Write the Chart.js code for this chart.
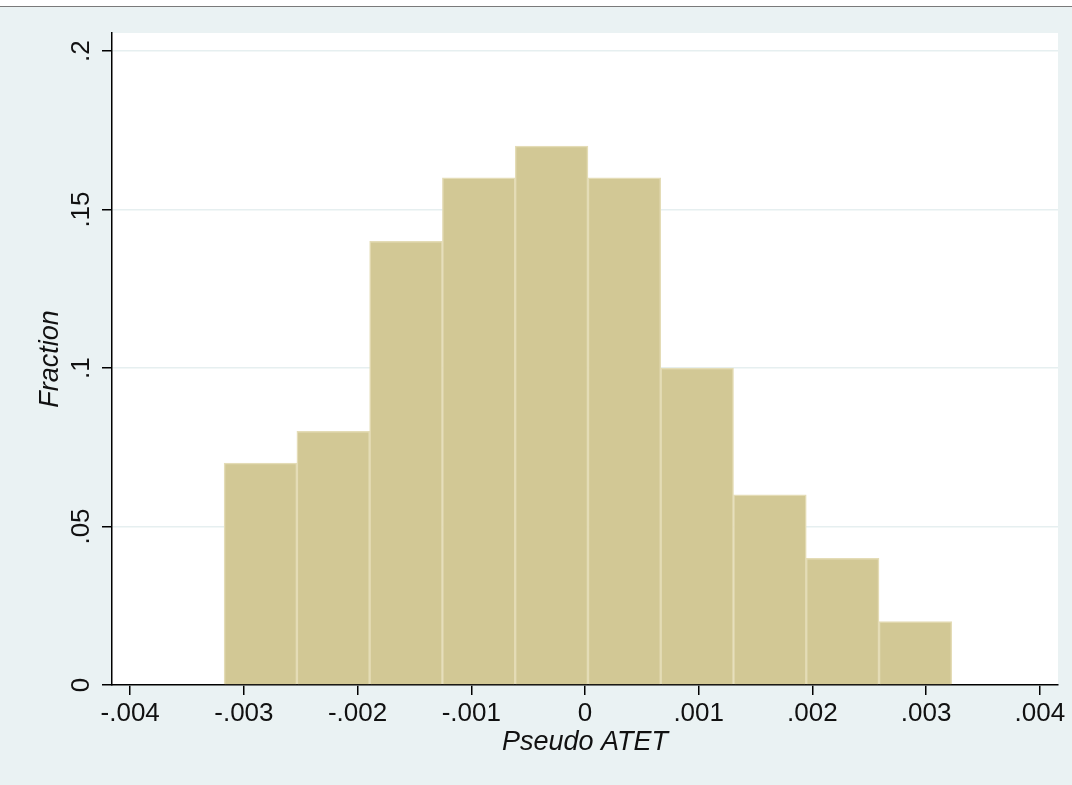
<!DOCTYPE html>
<html><head><meta charset="utf-8">
<script src="https://cdn.jsdelivr.net/npm/chart.js@4"></script>
<style>html,body{margin:0;padding:0;background:#fff;overflow:hidden}#wrap{width:1072px;height:785px;position:relative}</style>
</head><body><div id="wrap"><canvas id="c" width="1072" height="785"></canvas></div>
<script>
const binCenters = [-0.002854, -0.002214, -0.001574, -0.000934, -0.000294, 0.000346, 0.000986, 0.001626, 0.002266, 0.002906];
const fractions = [0.07, 0.08, 0.14, 0.16, 0.17, 0.16, 0.10, 0.06, 0.04, 0.02];
const xTickValues = [-0.004, -0.003, -0.002, -0.001, 0, 0.001, 0.002, 0.003, 0.004];
const xTickLabels = ['-.004', '-.003', '-.002', '-.001', '0', '.001', '.002', '.003', '.004'];
const yTickValues = [0, 0.05, 0.1, 0.15, 0.2];
const yTickLabels = ['0', '.05', '.1', '.15', '.2'];

const FONT = "'Liberation Sans', Arial, Helvetica, sans-serif";
const TXT = '#111';

const bgPlugin = {
  id: 'bg',
  beforeDraw(chart) {
    const ctx = chart.ctx, a = chart.chartArea;
    ctx.save();
    ctx.fillStyle = '#eaf2f3';
    ctx.fillRect(0, 0, chart.width, chart.height);
    ctx.fillStyle = '#ffffff';
    ctx.fillRect(0, 0, chart.width, 6);
    ctx.fillStyle = '#7a7a7a';
    ctx.fillRect(0, 6, chart.width, 1);
    ctx.fillStyle = '#ffffff';
    ctx.fillRect(a.left, a.top, a.right - a.left, a.bottom - a.top);
    ctx.restore();
  }
};

const yLabelPlugin = {
  id: 'ylabels',
  afterDraw(chart) {
    const ctx = chart.ctx, y = chart.scales.y;
    ctx.save();
    ctx.font = '26px ' + FONT;
    ctx.fillStyle = TXT;
    ctx.textAlign = 'center';
    ctx.textBaseline = 'alphabetic';
    yTickValues.forEach((v, i) => {
      const py = y.getPixelForValue(v);
      ctx.save();
      ctx.translate(89, py);
      ctx.rotate(-Math.PI / 2);
      ctx.fillText(yTickLabels[i], 0, 0);
      ctx.restore();
    });
    ctx.restore();
  }
};

new Chart(document.getElementById('c'), {
  type: 'bar',
  data: {
    datasets: [{
      data: binCenters.map((x, i) => ({ x: x, y: fractions[i] })),
      backgroundColor: 'rgb(210,200,149)',
      borderColor: 'rgb(228,220,182)',
      borderWidth: 1.5,
      borderSkipped: 'start',
      barPercentage: 1,
      categoryPercentage: 1
    }]
  },
  options: {
    responsive: false,
    animation: false,
    layout: { padding: { left: 0, right: 14, top: 33, bottom: 0 } },
    plugins: { legend: { display: false }, tooltip: { enabled: false } },
    scales: {
      x: {
        type: 'linear',
        offset: false,
        min: -0.00416,
        max: 0.00416,
        afterBuildTicks(s) { s.ticks = xTickValues.map(v => ({ value: v })); },
        afterFit(s) { s.height = 100; },
        ticks: {
          autoSkip: false, maxRotation: 0, minRotation: 0, padding: 3,
          color: TXT, font: { family: FONT, size: 26 },
          callback: (v, i) => xTickLabels[i]
        },
        grid: { offset: false, drawOnChartArea: false, drawTicks: true, tickLength: 10, tickColor: '#000', tickWidth: 1.5, lineWidth: 1.5, color: '#000' },
        border: { display: true, color: '#000', width: 1.5 },
        title: { display: true, text: 'Pseudo ATET', color: TXT, font: { family: FONT, size: 27, style: 'italic' }, padding: { top: 0, bottom: 26 } }
      },
      y: {
        type: 'linear',
        min: 0,
        max: 0.2057,
        afterBuildTicks(s) { s.ticks = yTickValues.map(v => ({ value: v })); },
        afterFit(s) { s.width = 112; },
        ticks: { display: false },
        grid: { offset: false, drawOnChartArea: true, drawTicks: true, tickLength: 10, tickColor: '#000', tickWidth: 1.5, color: '#e6eff0', lineWidth: 1.5 },
        border: { display: true, color: '#000', width: 1.5 },
        title: { display: true, text: 'Fraction', color: TXT, font: { family: FONT, size: 27, style: 'italic' }, padding: { top: 34, bottom: 0 } }
      }
    }
  },
  plugins: [bgPlugin, yLabelPlugin]
});
</script>
</body></html>
